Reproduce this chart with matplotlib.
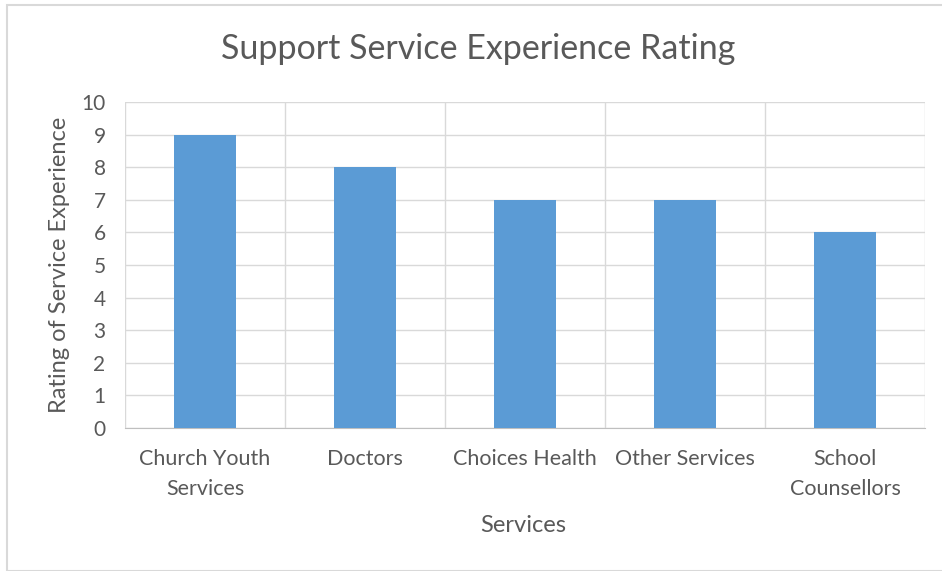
import matplotlib
matplotlib.use("Agg")
import matplotlib.pyplot as plt
from matplotlib.patches import Rectangle

categories = ["Church Youth\nServices", "Doctors", "Choices Health", "Other Services", "School\nCounsellors"]
ratings = [9, 8, 7, 7, 6]
yticks = [0, 1, 2, 3, 4, 5, 6, 7, 8, 9, 10]

plt.rcParams['font.family'] = ['Lato', 'DejaVu Sans']
txt = '#595959'
grid = '#d9d9d9'

fig = plt.figure(figsize=(9.42, 5.71), dpi=100)
fig.patches.append(Rectangle((7/942, 0), 1, 1 - 5/571, transform=fig.transFigure,
                             fill=False, edgecolor='#d9d9d9', linewidth=1.5))
ax = fig.add_axes([125/942, 1 - 428/571, 800/942, 326/571])

x = list(range(len(categories)))
ax.bar(x, ratings, width=0.39, color='#5b9bd5', zorder=3)
ax.set_xlim(-0.5, len(categories) - 0.5)
ax.set_ylim(0, 10)
ax.set_yticks(yticks)
ax.set_yticklabels([str(v) for v in yticks], color=txt, fontsize=15)
ax.set_xticks(x)
ax.set_xticklabels(categories, color=txt, fontsize=15.5, linespacing=1.65, va='top')
ax.set_xticks([i + 0.5 for i in range(-1, len(categories))], minor=True)
ax.grid(axis='y', color=grid, linewidth=1, zorder=0)
ax.grid(axis='x', which='minor', color=grid, linewidth=1, zorder=0)
ax.tick_params(axis='both', which='both', length=0)
ax.tick_params(axis='x', pad=15)
ax.tick_params(axis='y', pad=14)
for s in ['top', 'right', 'left']:
    ax.spines[s].set_visible(False)
ax.spines['bottom'].set_color('#bfbfbf')

fig.text(478/942, 1 - 49/571, "Support Service Experience Rating", ha='center', va='center',
         fontsize=24.5, color=txt)
fig.text(523/942, 1 - 526/571, "Services", ha='center', va='center', fontsize=17, color=txt)
fig.text(60/942, 1 - 265/571, "Rating of Service Experience", ha='center', va='center',
         rotation=90, fontsize=17, color=txt)

fig.savefig("out.png", dpi=100)
